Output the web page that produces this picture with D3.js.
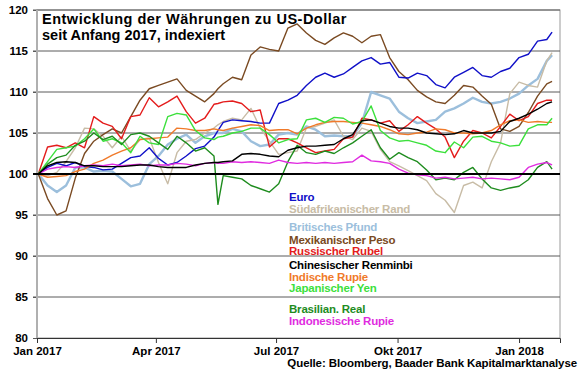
<!DOCTYPE html>
<html>
<head>
<meta charset="utf-8">
<script src="https://cdn.jsdelivr.net/npm/d3@7"></script>
<style>
  body { margin: 0; background: #fff; }
  svg { font-family: Arial, "Liberation Sans", sans-serif; font-weight: bold; }
</style>
</head>
<body>
<div id="chart"></div>
<script>
//dates of the sampled points (Mondays, plus the Brazil crash day and the last day)
var dates = ["2017-01-02","2017-01-09","2017-01-16","2017-01-23","2017-01-30",
  "2017-02-06","2017-02-13","2017-02-20","2017-02-27","2017-03-06","2017-03-13","2017-03-20","2017-03-27",
  "2017-04-03","2017-04-10","2017-04-17","2017-04-24","2017-05-01","2017-05-08","2017-05-15","2017-05-18",
  "2017-05-22","2017-05-29","2017-06-05","2017-06-12","2017-06-19","2017-06-26","2017-07-03","2017-07-10",
  "2017-07-17","2017-07-24","2017-07-31","2017-08-07","2017-08-14","2017-08-21","2017-08-28","2017-09-04",
  "2017-09-11","2017-09-18","2017-09-25","2017-10-02","2017-10-09","2017-10-16","2017-10-23","2017-10-30",
  "2017-11-06","2017-11-13","2017-11-20","2017-11-27","2017-12-04","2017-12-11","2017-12-18","2017-12-25",
  "2018-01-01","2018-01-08","2018-01-15","2018-01-22","2018-01-26"];

var euro = [100,100.8,101.3,101.0,101.4,100.9,100.8,100.5,100.6,101.3,102.0,102.2,103.2,101.9,101.1,101.4,102.2,103.1,103.4,104.5,105.3,
  106.3,106.6,106.5,106.4,106.2,106.2,108.6,109.0,109.6,110.8,111.8,112.3,111.8,112.2,113.0,113.8,114.2,113.4,113.6,111.8,111.7,112.3,
  112.0,110.9,110.5,111.8,112.4,113.0,112.0,111.8,112.5,112.9,114.2,114.6,116.2,116.4,117.3];
var rand = [100,99.8,100.2,101.5,103.2,105.6,105.5,104.6,103.2,104.6,102.8,104.2,104.4,101.4,98.8,102.6,104.0,104.2,105.0,105.6,106.0,
  106.4,106.8,106.6,108.0,105.6,104.0,102.4,102.6,102.8,105.6,105.8,106.2,106.6,104.6,104.2,105.6,105.2,103.0,101.5,101.0,100.4,99.8,
  99.2,97.6,96.8,95.3,98.6,99.0,98.3,101.5,103.8,109.8,111.2,110.8,110.6,113.8,114.8];
var pfund = [100,98.6,97.8,98.6,100.8,100.8,100.3,100.4,100.3,99.4,98.5,98.8,101.2,102.2,103.6,104.3,104.8,103.8,104.6,105.0,105.0,
  105.0,105.5,105.2,104.0,103.4,103.6,104.8,105.0,104.8,105.8,105.4,104.6,104.7,104.6,104.6,106.2,110.0,109.6,109.2,107.6,106.8,106.2,
  106.4,106.6,107.6,108.0,108.6,109.3,108.8,108.6,108.8,109.2,109.8,110.8,111.6,113.8,114.5];
var peso = [100,97,95.0,95.5,99.5,102.5,104,104.8,105.5,105,107,109,110.4,110.8,111.2,111.6,110.2,109.5,108.8,109.8,110.4,
  111.0,111.8,111.5,114.5,115.5,115.2,115.0,117.8,118.3,117.2,116.3,115.8,116.6,117.2,116.8,116.0,116.8,117.0,114.2,112.5,111.5,110.2,
  109.4,108.8,108.6,109.6,110.8,110.6,109.5,108.5,105.5,105.2,105.8,107.5,109.5,111.0,111.3];
var rubel = [100,103.3,103.5,103.2,103.8,103.2,107.0,106.2,105.8,104.3,107.0,107.2,109.3,108.2,108.8,109.5,107.6,106.2,106.8,108.5,108.6,
  108.8,108.9,108.6,107.6,107.8,103.3,104.3,104.3,103.8,103.2,102.6,102.8,103.0,104.3,104.5,106.8,106.6,106.2,106.5,105.2,106.0,107.0,
  106.2,105.5,104.5,102.0,104.0,105.3,105.0,104.4,105.8,107.3,106.5,107.0,108.6,109.0,109.0];
var renminbi = [100,101.0,101.4,101.5,101.4,101.0,101.0,100.9,100.9,100.9,101.0,101.1,101.1,100.9,100.8,100.8,100.8,101.1,101.3,101.4,101.4,
  101.5,101.6,102.4,102.5,102.4,102.2,102.1,102.9,103.2,103.4,103.4,103.5,103.6,104.3,104.8,106.5,106.6,106.2,105.8,105.6,105.6,105.4,
  105.0,104.9,104.8,104.9,105.3,105.0,105.0,105.0,105.2,106.4,106.8,107.3,107.9,108.6,108.8];
var rupie = [100,99.6,99.7,99.8,100.3,100.6,101.3,101.7,102.3,102.8,103.2,104.2,104.3,104.4,104.5,105.6,105.5,105.3,105.3,105.5,105.4,
  105.3,105.6,105.8,106.0,105.9,105.3,105.4,105.4,104.9,105.6,106.0,106.3,106.4,106.4,106.3,106.2,106.0,105.8,105.4,104.9,104.8,105.0,
  105.1,105.5,105.4,105.0,105.0,104.9,105.0,105.3,106.0,106.5,106.6,106.3,106.4,106.3,106.3];
var yen = [100,101.5,103.0,103.2,103.4,104.3,105.5,104.0,104.3,103.8,102.6,104.6,103.8,103.6,107.0,107.4,107.2,105.3,104.4,104.2,104.5,
  104.6,105.0,105.2,105.6,105.6,104.8,103.8,104.2,104.3,106.6,106.8,106.3,106.9,106.8,106.1,106.4,108.3,105.3,104.4,104.0,104.1,103.8,
  103.5,102.8,102.6,103.9,103.2,104.5,104.6,104.0,103.8,103.4,103.5,105.5,106.0,106.0,106.8];
var real = [100,101.2,102.0,102.3,103.5,104.0,105.0,104.2,104.6,103.6,104.8,105.0,104.6,103.8,103.0,104.6,103.8,102.8,103.2,102.2,96.3,
  99.8,99.6,99.4,98.6,98.2,97.8,98.8,101.5,103.5,102.6,102.4,102.8,102.5,103.2,103.8,104.6,105.4,103.2,101.8,102.6,102.0,101.5,
  100.5,99.3,99.5,99.3,100.2,100.8,99.4,98.3,98.0,98.3,98.5,99.3,100.8,101.5,100.6];
var idr = [100,100.6,100.8,100.9,100.8,101.0,101.1,101.0,101.2,101.0,101.1,101.2,101.0,101.1,101.1,101.3,101.2,101.0,101.3,101.4,101.3,
  101.3,101.5,101.4,101.5,101.4,101.3,101.7,101.4,101.3,101.4,101.3,101.4,101.3,101.4,101.5,102.3,101.6,101.5,101.3,100.6,100.1,99.9,
  99.8,99.5,99.6,99.4,99.5,99.6,99.4,99.5,99.4,99.3,99.6,100.8,101.2,101.4,101.1];

var names = ["Euro","Südafrikanischer Rand","Britisches Pfund","Mexikanischer Peso","Russischer Rubel",
  "Chinesischer Renminbi","Indische Rupie","Japanischer Yen","Brasilian. Real","Indonesische Rupie"];
var colors = ["#1010c8","#c8bca6","#9cbfdc","#7a4a22","#e41c1c","#000000","#f07a2a","#3ce03c","#1e8c1e","#e02ce0"];
var values = [euro, rand, pfund, peso, rubel, renminbi, rupie, yen, real, idr];

var yTicks = [80, 85, 90, 95, 100, 105, 110, 115, 120];
var xTicks = ["2017-01-01","2017-04-01","2017-07-01","2017-10-01","2018-01-01"];
var xTickLabels = ["Jan 2017","Apr 2017","Jul 2017","Okt 2017","Jan 2018"];

var title1 = "Entwicklung der Währungen zu US-Dollar";
var title2 = "seit Anfang 2017, indexiert";
var source = "Quelle: Bloomberg, Baader Bank Kapitalmarktanalyse";

//dimensions of the plot area
var margin = {top: 10, right: 20, bottom: 37, left: 37},
    W = 580, H = 375,
    width = W - margin.left - margin.right,
    height = H - margin.top - margin.bottom;

var parse = d3.utcParse("%Y-%m-%d");

var svg = d3.select("#chart").append("svg")
    .attr("width", W)
    .attr("height", H);

var g = svg.append("g")
    .attr("transform", "translate(" + margin.left + "," + margin.top + ")");

var x = d3.scaleUtc()
    .domain([parse("2017-01-01"), parse("2018-02-01")])
    .range([0, width]);
var y = d3.scaleLinear().domain([80, 120]).range([height, 0]);

//frame
g.append("rect")
    .attr("width", width).attr("height", height)
    .attr("fill", "none").attr("stroke", "#9a9a9a");

//gridlines
g.selectAll(".grid")
  .data(yTicks.filter(function(d) { return d != 80 && d != 100; }))
  .enter().append("line")
    .attr("class", "grid")
    .attr("x1", -4).attr("x2", width)
    .attr("y1", function(d) { return y(d); })
    .attr("y2", function(d) { return y(d); })
    .attr("stroke", "#5a5a5a").attr("stroke-width", 1);

//y axis labels
var yAxis = d3.axisLeft(y).tickValues(yTicks).tickSize(4).tickPadding(5);
g.append("g").call(yAxis)
  .call(function(a) {
    a.select(".domain").remove();
    a.selectAll("line").attr("stroke", "#5a5a5a");
    a.selectAll("text").attr("font-size", 11.5).attr("font-weight", "bold").attr("fill", "#000")
      .attr("font-family", "Arial, 'Liberation Sans', sans-serif");
  });

//x axis
var xAxis = d3.axisBottom(x)
    .tickValues(xTicks.map(parse))
    .tickFormat(function(d, i) { return xTickLabels[i]; })
    .tickSize(5).tickPadding(4);
g.append("g").attr("transform", "translate(0," + height + ")").call(xAxis)
  .call(function(a) {
    a.select(".domain").attr("stroke", "#333");
    a.selectAll("line").attr("stroke", "#333");
    a.selectAll("text").attr("font-size", 11.5).attr("font-weight", "bold").attr("fill", "#000")
      .attr("font-family", "Arial, 'Liberation Sans', sans-serif");
  });

//left axis line
g.append("line")
    .attr("x1", 0).attr("x2", 0).attr("y1", 0).attr("y2", height)
    .attr("stroke", "#b0b0b0").attr("stroke-width", 2);

//series lines
var line = d3.line()
    .x(function(d, i) { return x(parse(dates[i])); })
    .y(function(d) { return y(d); });

var order = [2, 1, 3, 0, 4, 6, 7, 8, 9, 5];
order.forEach(function(k) {
  g.append("path")
    .datum(values[k])
    .attr("fill", "none")
    .attr("stroke", colors[k])
    .attr("stroke-width", k == 2 ? 2.4 : 1.4)
    .attr("stroke-linejoin", "round")
    .attr("d", line);
});

//100 line
g.append("line")
    .attr("x1", -4).attr("x2", width)
    .attr("y1", y(100)).attr("y2", y(100))
    .attr("stroke", "#000").attr("stroke-width", 2);

//legend (text only)
var legendY = [201, 213, 231, 243.5, 255, 268.5, 280.5, 292, 313, 324.5];
svg.selectAll(".leg")
  .data(names)
  .enter().append("text")
    .attr("class", "leg")
    .attr("x", 289)
    .attr("y", function(d, i) { return legendY[i]; })
    .attr("fill", function(d, i) { return colors[i]; })
    .attr("font-size", 11.5)
    .attr("letter-spacing", -0.2)
    .text(function(d) { return d; });

//title
svg.append("text").attr("x", 42).attr("y", 24).attr("font-size", 14.5)
    .attr("letter-spacing", 0.5).text(title1);
svg.append("text").attr("x", 42).attr("y", 39.5).attr("font-size", 14.5).text(title2);

//source
svg.append("text").attr("x", 577).attr("y", 367).attr("text-anchor", "end")
    .attr("font-size", 11.5).attr("letter-spacing", -0.1).text(source);
</script>
</body>
</html>
